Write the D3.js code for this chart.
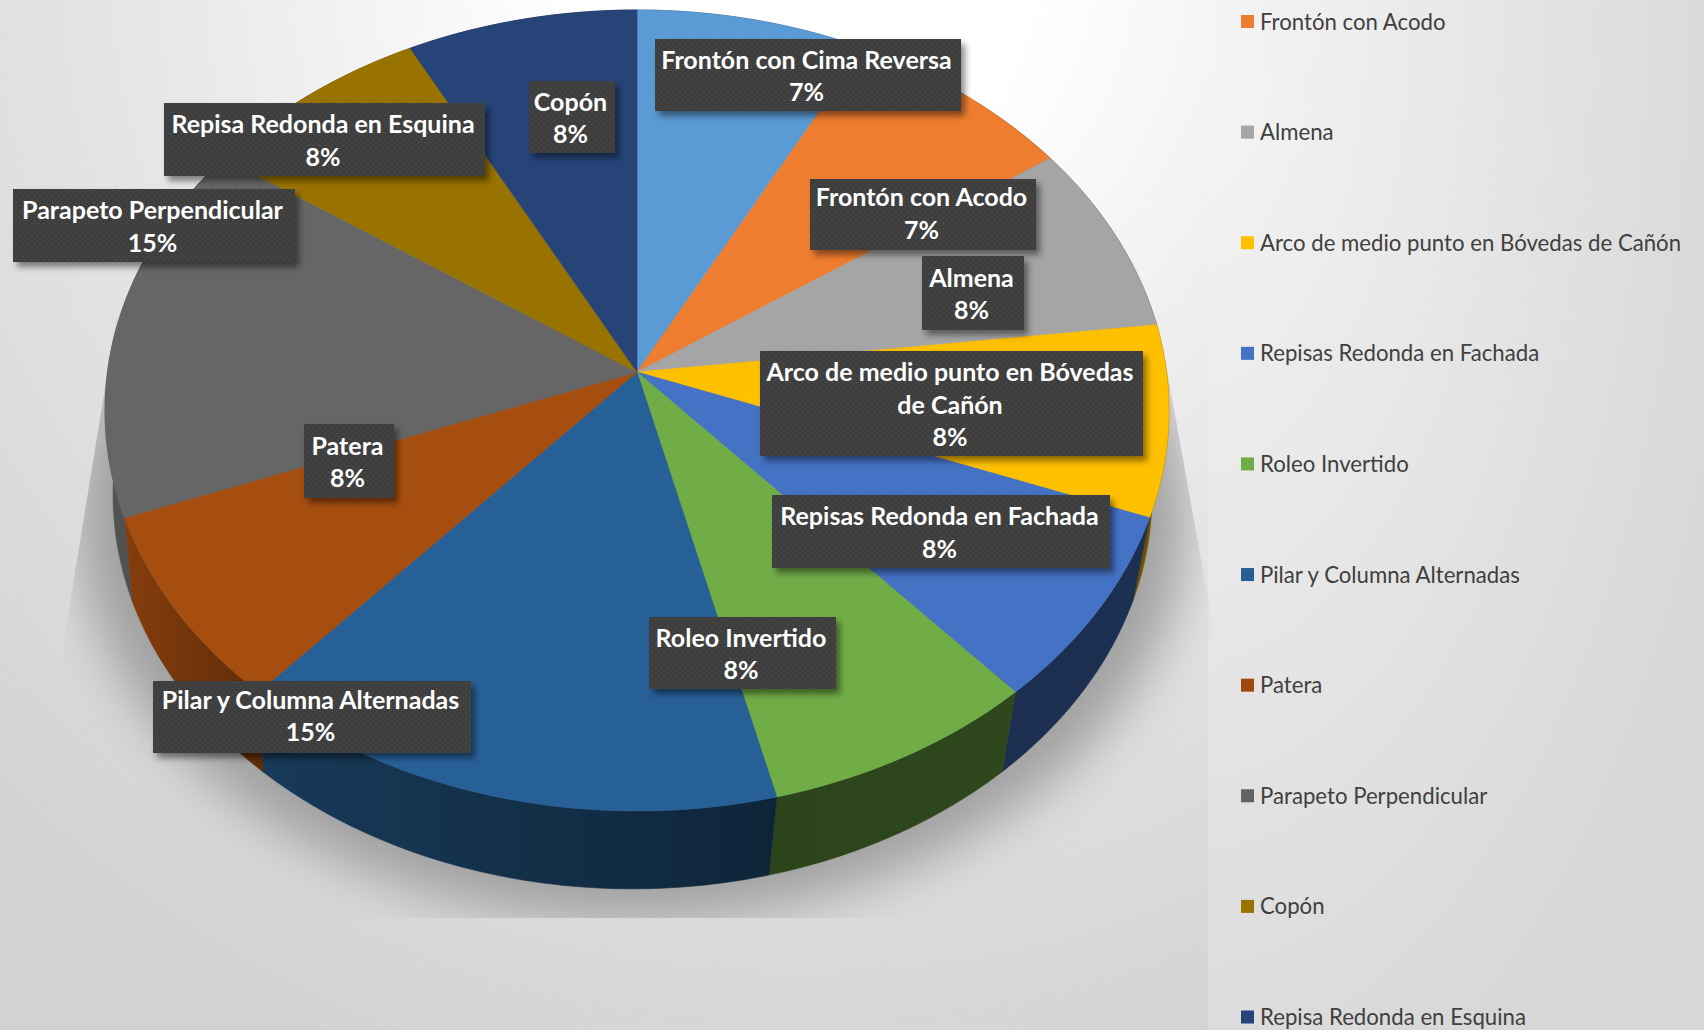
<!DOCTYPE html>
<html>
<head>
<meta charset="utf-8">
<script src="https://cdn.jsdelivr.net/npm/d3@7"></script>
<style>
html, body { margin: 0; padding: 0; background: #e6e6e6; overflow: hidden; }
svg { display: block; }
text { font-family: Lato, "Open Sans", sans-serif; }
</style>
</head>
<body>
<svg id="chart"></svg>
<script>
const categories = ['Frontón con Cima Reversa', 'Frontón con Acodo', 'Almena', 'Arco de medio punto en Bóvedas de Cañón', 'Repisas Redonda en Fachada', 'Roleo Invertido', 'Pilar y Columna Alternadas', 'Patera', 'Parapeto Perpendicular', 'Copón', 'Repisa Redonda en Esquina']
const shares = [1, 1, 1, 1, 1, 1, 2, 1, 2, 1, 1]
const percentLabels = [7, 7, 8, 8, 8, 8, 15, 8, 15, 8, 8]
const colors = ['#5b9bd5', '#ed7d31', '#a5a5a5', '#ffc000', '#4472c4', '#70ad47', '#255e91', '#9e480e', '#636363', '#997300', '#264478']
// the lit top face reads a bit lighter than the legend for the dark slices
const topColors = ['#5b9bd5', '#ef7d2f', '#a5a5a5', '#ffc000', '#4472c4', '#70ad47', '#276097', '#a64d10', '#666666', '#997300', '#264478']
const legendNames = categories.slice(1)

// label wrapping, boxes [x0, y0, x1, y1] and text nudges, same order as categories
const labelLines = [['Frontón con Cima Reversa'], ['Frontón con Acodo'], ['Almena'], ['Arco de medio punto en Bóvedas', 'de Cañón'], ['Repisas Redonda en Fachada'], ['Roleo Invertido'], ['Pilar y Columna Alternadas'], ['Patera'], ['Parapeto Perpendicular'], ['Copón'], ['Repisa Redonda en Esquina']]
const labelBoxes = [[655, 39, 961, 111], [810, 179, 1036, 250], [922, 256, 1024, 330], [760, 351, 1143, 456], [772, 495, 1110, 568], [649, 617, 836, 689], [153, 681, 471, 753], [304, 424, 394, 498], [13, 189, 295, 262], [529, 81, 615, 153], [164, 103, 485, 176]]
const labelNudge = [0, -2, 0, 0, 0, 0, -2, 0, 0, 0, 0]

const W = 1704, H = 1030
const svg = d3.select('#chart').attr('width', W).attr('height', H)
const defs = svg.append('defs')

const mainBg = defs.append('radialGradient').attr('id', 'mainBg').attr('gradientUnits', 'userSpaceOnUse')
  .attr('cx', 800).attr('cy', -40).attr('r', 1180)
mainBg.append('stop').attr('offset', .2).attr('stop-color', '#ffffff')
mainBg.append('stop').attr('offset', .6).attr('stop-color', '#e4e4e4')
mainBg.append('stop').attr('offset', 1).attr('stop-color', '#d2d2d2')
const panelBg = defs.append('radialGradient').attr('id', 'panelBg').attr('gradientUnits', 'userSpaceOnUse')
  .attr('cx', 0).attr('cy', 0).attr('r', 1).attr('gradientTransform', 'translate(1190,30) scale(560,1150)')
panelBg.append('stop').attr('offset', 0).attr('stop-color', '#f6f6f6')
panelBg.append('stop').attr('offset', .6).attr('stop-color', '#e4e4e4')
panelBg.append('stop').attr('offset', 1).attr('stop-color', '#d8d8d8')

defs.append('filter').attr('id', 'soft').attr('x', '-20%').attr('y', '-20%').attr('width', '140%').attr('height', '140%')
  .append('feGaussianBlur').attr('stdDeviation', 26)
defs.append('clipPath').attr('id', 'shadowClip').append('polygon')
  .attr('points', '116,320 64,640 64,918 1212,918 1212,620 1158,320')
const labelShadow = defs.append('filter').attr('id', 'labelShadow').attr('x', '-10%').attr('y', '-20%').attr('width', '125%').attr('height', '150%')
labelShadow.append('feDropShadow').attr('dx', 4).attr('dy', 5).attr('stdDeviation', 3).attr('flood-color', '#000').attr('flood-opacity', .45)
const dots = defs.append('pattern').attr('id', 'dots').attr('width', 6).attr('height', 6).attr('patternUnits', 'userSpaceOnUse')
dots.append('rect').attr('width', 6).attr('height', 6).attr('fill', '#3e3e3e')
dots.append('circle').attr('cx', 1.5).attr('cy', 1.5).attr('r', .8).attr('fill', '#4e4e4e')
dots.append('circle').attr('cx', 4.5).attr('cy', 4.5).attr('r', .8).attr('fill', '#4e4e4e')

svg.append('rect').attr('width', 1208).attr('height', H).attr('fill', 'url(#mainBg)')
svg.append('rect').attr('x', 1208).attr('width', W - 1208).attr('height', H).attr('fill', 'url(#panelBg)')

svg.append('g').attr('clip-path', 'url(#shadowClip)').append('ellipse')
  .attr('cx', 632).attr('cy', 515).attr('rx', 555).attr('ry', 405)
  .attr('fill', '#a0a0a0').attr('filter', 'url(#soft)')

// perspective disc: the apex sits above the centre of the top ellipse
const apex = { x: 637, y: 372 }, topEll = { cx: 637, cy: 410, rx: 532, ry: 400 }, botEll = { cx: 632.5, cy: 494.5, rx: 519.5, ry: 393.4 }
const persp = { a: 529.5, b: 396.8, k: .0961 }
function project(angle, r = 1) {
  const u = r * Math.sin(angle), v = -r * Math.cos(angle), d = 1 - persp.k * v
  return [apex.x + persp.a * u / d, apex.y + persp.b * v / d]
}
function lower(p) {
  return [botEll.cx + botEll.rx * (p[0] - topEll.cx) / topEll.rx, botEll.cy + botEll.ry * (p[1] - topEll.cy) / topEll.ry]
}
function rim(d) {
  const n = Math.ceil((d.endAngle - d.startAngle) * 60)
  return d3.range(n + 1).map(i => project(d.startAngle + (d.endAngle - d.startAngle) * i / n))
}

const pie = d3.pie().sort(null).value(d => d)
const arcs = pie(shares)
const line = d3.line()
const sideShade = d3.scaleLinear().domain([120, 280, 640, 1170]).range([.85, .58, .38, .42]).clamp(true)
const shade = (hex, f) => { const c = d3.rgb(hex); return d3.rgb(c.r * f, c.g * f, c.b * f).formatHex() }

arcs.forEach((d, i) => {
  const pts = rim(d)
  const xs = d3.extent(pts, p => p[0])
  const g = defs.append('linearGradient').attr('id', 'side' + i).attr('gradientUnits', 'userSpaceOnUse')
    .attr('x1', xs[0]).attr('x2', xs[1]).attr('y1', 0).attr('y2', 0)
  g.append('stop').attr('offset', 0).attr('stop-color', shade(colors[i], sideShade(xs[0])))
  g.append('stop').attr('offset', 1).attr('stop-color', shade(colors[i], sideShade(xs[1])))
  svg.append('path').attr('d', line(pts.concat(pts.map(lower).reverse())) + 'Z')
    .attr('fill', `url(#side${i})`).attr('stroke', `url(#side${i})`).attr('stroke-width', .6)
})
arcs.forEach((d, i) => {
  svg.append('path').attr('d', line([[apex.x, apex.y]].concat(rim(d))) + 'Z')
    .attr('fill', topColors[i]).attr('stroke', topColors[i]).attr('stroke-width', .6)
})

// data labels
const lineStep = 32.2
categories.forEach((name, i) => {
  const b = labelBoxes[i]
  const lines = labelLines[i].concat(percentLabels[i] + '%')
  svg.append('rect').attr('x', b[0]).attr('y', b[1]).attr('width', b[2] - b[0]).attr('height', b[3] - b[1])
    .attr('fill', '#3e3e3e').attr('filter', 'url(#labelShadow)')
  svg.append('rect').attr('x', b[0]).attr('y', b[1]).attr('width', b[2] - b[0]).attr('height', b[3] - b[1])
    .attr('fill', 'url(#dots)')
  const mid = (b[1] + b[3]) / 2
  lines.forEach((t, j) => {
    svg.append('text').attr('x', (b[0] + b[2]) / 2 - 1.5).attr('y', mid + (j - (lines.length - 1) / 2) * lineStep + 10 + labelNudge[i])
      .attr('text-anchor', 'middle').attr('font-size', 25).attr('font-weight', 700).attr('fill', '#fff').text(t)
  })
})

// legend, the first series falls off the top of the picture
const legendY = d3.scalePoint().domain(legendNames).range([21.5, 1017])
const legend = svg.append('g')
legend.selectAll('rect').data(legendNames).enter().append('rect')
  .attr('x', 1241).attr('y', d => legendY(d) - 6.5).attr('width', 13).attr('height', 13)
  .attr('fill', d => colors[categories.indexOf(d)])
legend.selectAll('text').data(legendNames).enter().append('text')
  .attr('x', 1260).attr('y', d => legendY(d) + 8).attr('font-size', 22.2).attr('fill', '#404040').text(d => d)
</script>
</body>
</html>
